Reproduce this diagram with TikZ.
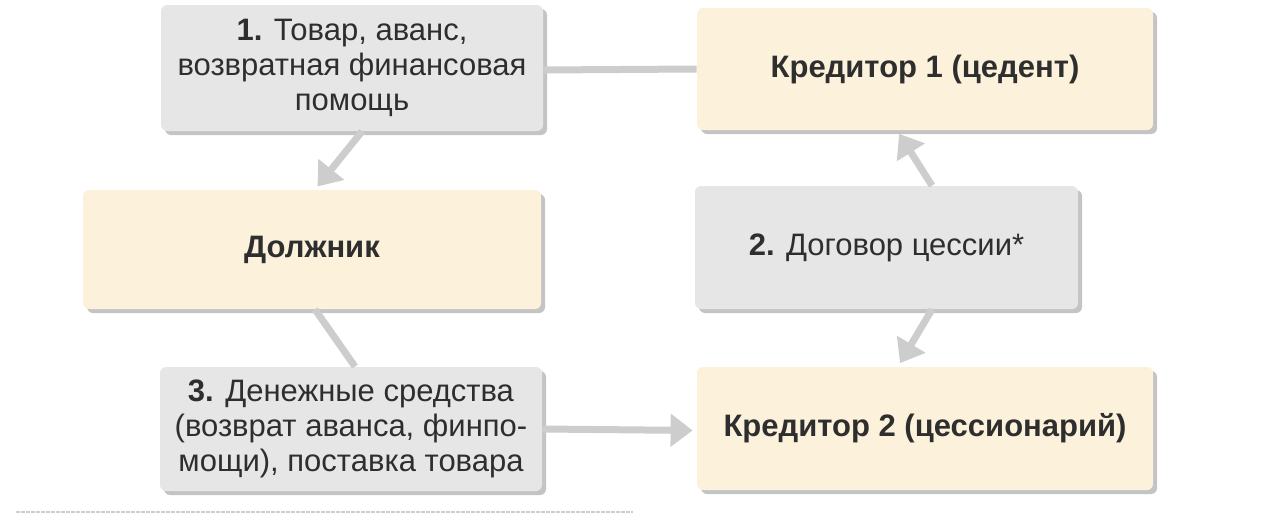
\documentclass[tikz,border=0pt]{standalone}
\usepackage{fontspec}
\setmainfont{Liberation Sans}
\usetikzlibrary{arrows.meta,shadows}
\definecolor{boxgray}{HTML}{E6E6E6}
\definecolor{boxcream}{HTML}{FCF2DC}
\definecolor{shadowgray}{HTML}{C4C4C4}
\definecolor{linegray}{HTML}{CDCDCD}
\definecolor{txt}{HTML}{2E2E2E}
\tikzset{
  base/.style={rectangle, rounded corners=3pt, align=center, text=txt,
    font=\fontsize{15.5}{17.5}\selectfont, inner sep=0pt,
    drop shadow={shadow xshift=2pt, shadow yshift=-2pt, fill=shadowgray, opacity=1}},
  graybox/.style={base, fill=boxgray},
  creambox/.style={base, fill=boxcream, font=\fontsize{15.5}{17.5}\selectfont\bfseries},
  conn/.style={draw=linegray, line width=3.5pt},
  arr/.style={conn, -{Triangle[width=16pt,length=11pt]}, shorten >=2pt},
}
\begin{document}
\begin{tikzpicture}[x=0.5pt,y=-0.5pt]
\useasboundingbox (0,0) rectangle (1280,514);
\node[graybox, minimum width=191pt, minimum height=63pt] (b1) at (352,68)
  {\textbf{1.} Товар, аванс,\\возвратная финансовая\\помощь};
\node[creambox, minimum width=228pt, minimum height=61pt] (k1) at (925,69)
  {Кредитор 1 (цедент)};
\node[creambox, minimum width=229pt, minimum height=59.5pt] (deb) at (312,249.5)
  {Должник};
\node[graybox, minimum width=191.5pt, minimum height=61.5pt] (b2) at (886.5,247.5)
  {\textbf{2.} Договор цессии*};
\node[graybox, minimum width=191pt, minimum height=62pt] (b3) at (351,429)
  {\textbf{3.} Денежные средства\\(возврат аванса, финпо-\\мощи), поставка товара};
\node[creambox, minimum width=228pt, minimum height=61.5pt] (k2) at (925,428.5)
  {Кредитор 2 (цессионарий)};
\draw[conn] (k1.west) -- ([yshift=-1pt]b1.east);
\draw[arr] ([xshift=5pt]b1.south) -- ([xshift=1.5pt]deb.north);
\draw[conn] ([xshift=1.5pt]deb.south) -- ([xshift=2pt]b3.north);
\draw[arr] (b3.east) -- ([yshift=-1pt]k2.west);
\draw[arr] ([xshift=22.75pt]b2.north) -- ([xshift=-14pt]k1.south);
\draw[arr] ([xshift=22.75pt]b2.south) -- ([xshift=-13.5pt]k2.north);
\coordinate (la) at (16,512);
\coordinate (lb) at (633,512);
\draw[linegray, line width=1pt, dash pattern=on 2pt off 0.5pt] (la) -- (lb);
\end{tikzpicture}
\end{document}
